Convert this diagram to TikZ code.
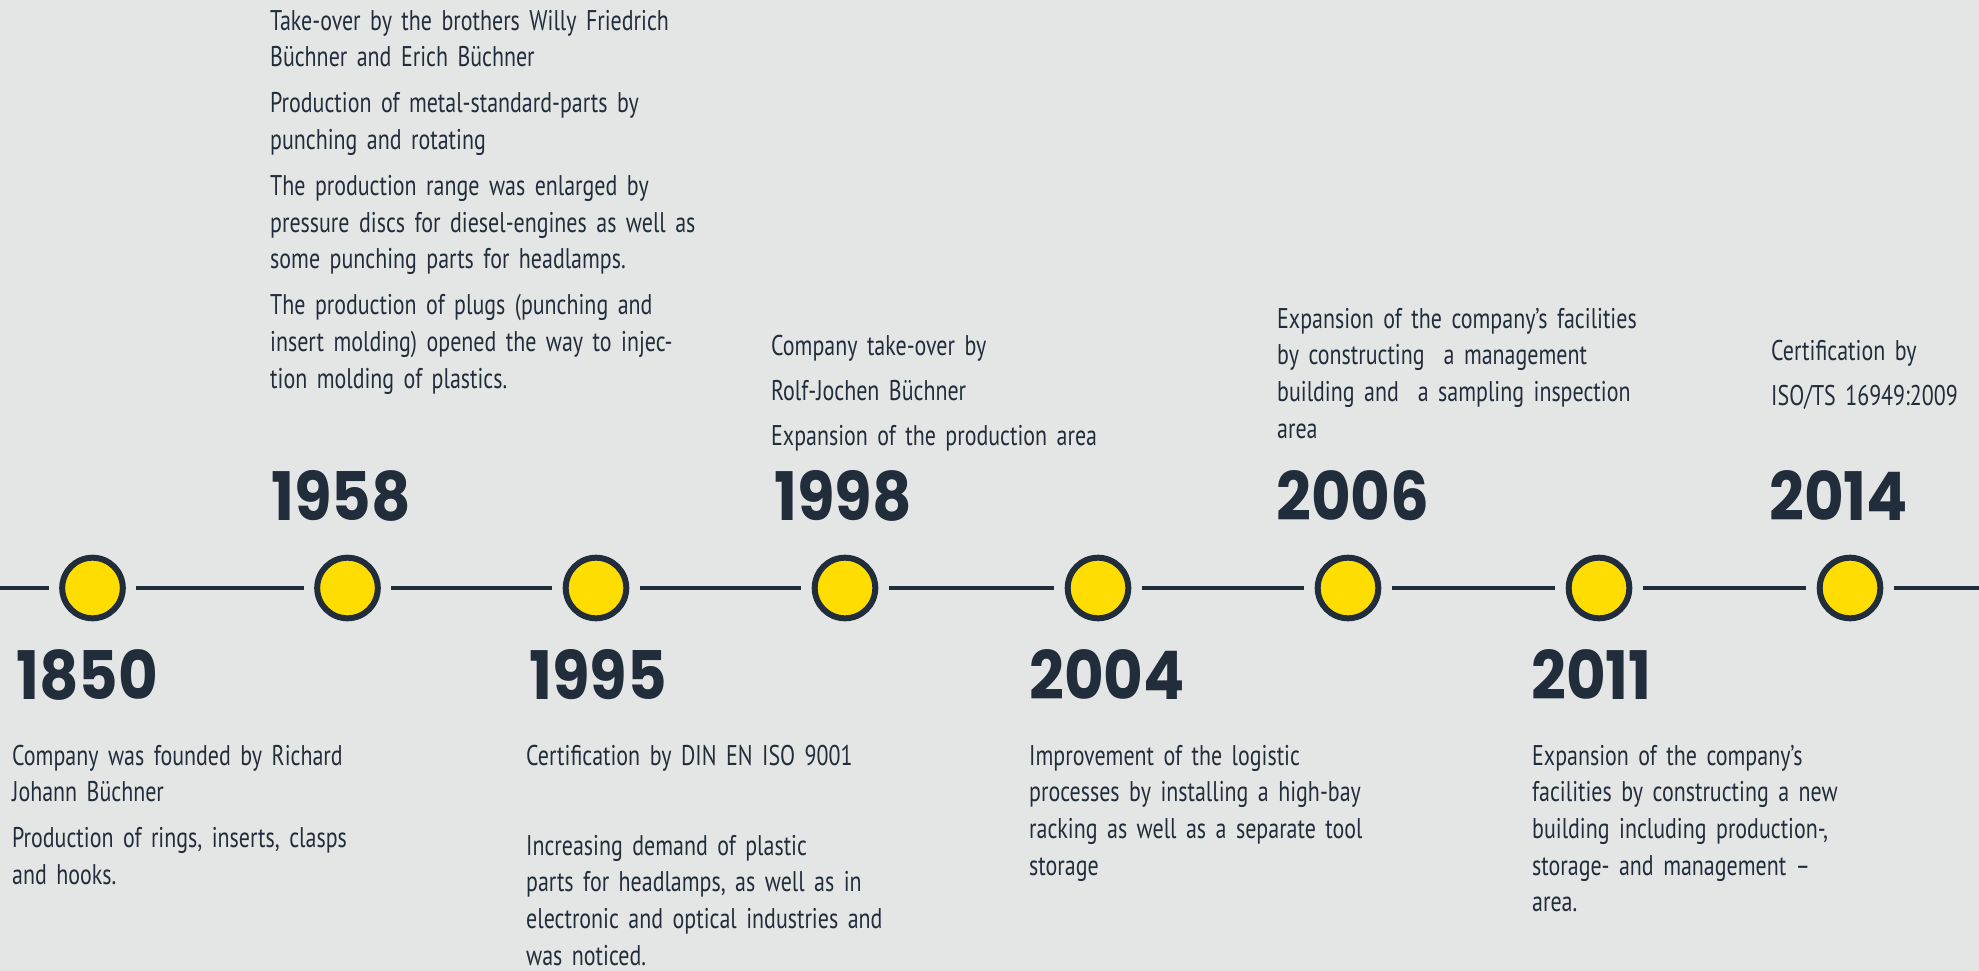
\documentclass[tikz,border=0pt]{standalone}
\usepackage{fontspec}
\setmainfont{PT Sans}
\newfontfamily\descfont[FakeStretch=0.77]{PT Sans}
\newfontfamily\yearfont[FakeStretch=0.91]{Poppins}
\setlength{\parindent}{0pt}
\definecolor{navy}{HTML}{222D3B}
\definecolor{yel}{HTML}{FFDD00}
\definecolor{bg}{HTML}{E4E6E5}
\begin{document}
\begin{tikzpicture}[x=1pt,y=-1pt,
  dot/.style={circle, draw=navy, fill=yel, line width=6pt, minimum size=60.6pt, inner sep=0pt},
  year/.style={anchor=base west, inner sep=0pt, text=navy, font=\yearfont\bfseries\fontsize{67}{67}\selectfont},
  desc/.style={anchor=north west, inner sep=0pt, text=navy, text width=540pt, align=left, font=\descfont\fontsize{28.5}{36.7}\selectfont},
  tl/.style={draw=navy, line width=4pt, shorten <=10.5pt, shorten >=10.5pt}
]
\fill[bg] (0,0) rectangle (1979,971);
\useasboundingbox (0,0) rectangle (1979,971);

% circles
\node[dot] (c1) at (92.5,588) {};
\node[dot] (c2) at (347.5,588) {};
\node[dot] (c3) at (596,588) {};
\node[dot] (c4) at (845,588) {};
\node[dot] (c5) at (1098,588) {};
\node[dot] (c6) at (1348,588) {};
\node[dot] (c7) at (1599,588) {};
\node[dot] (c8) at (1850,588) {};
\coordinate (lstart) at (0,588);
\coordinate (lend) at (1979,588);

% connectors
\draw[tl, shorten <=0pt] (lstart) -- (c1);
\draw[tl] (c1) -- (c2);
\draw[tl] (c2) -- (c3);
\draw[tl] (c3) -- (c4);
\draw[tl] (c4) -- (c5);
\draw[tl] (c5) -- (c6);
\draw[tl] (c6) -- (c7);
\draw[tl] (c7) -- (c8);
\draw[tl, shorten >=0pt] (c8) -- (lend);

% years
\node[year] (y1850) at (16,699) {1850};
\node[year] (y1958) at (271,520) {1958};
\node[year] (y1995) at (529,699) {1995};
\node[year] (y1998) at (774,520) {1998};
\node[year] (y2004) at (1029,699) {2004};
\node[year] (y2006) at (1276,520) {2006};
\node[year] (y2011) at (1531,699) {2011};
\node[year] (y2014) at (1769,520) {2014};

% descriptions
\node[desc] (d1850) at (12,739.3) {\strut Company was founded by Richard\\Johann Büchner\par\vspace{9.3pt}\strut Production of rings, inserts, clasps\\and hooks.};

\node[desc] (d1958) at (270,4.3) {\strut Take-over by the brothers Willy Friedrich\\Büchner and Erich Büchner\par\vspace{9.3pt}\strut Production of metal-standard-parts by\\punching and rotating\par\vspace{9.3pt}\strut The production range was enlarged by\\pressure discs for diesel-engines as well as\\some punching parts for headlamps.\par\vspace{9.3pt}\strut The production of plugs (punching and\\insert molding) opened the way to injec-\\tion molding of plastics.};

\node[desc] (d1995) at (526,739.3) {\strut Certification by DIN EN ISO 9001\par\vspace{53.3pt}\strut Increasing demand of plastic\\parts for headlamps, as well as in\\electronic and optical industries and\\was noticed.};

\node[desc] (d1998) at (771,329.3) {\strut Company take-over by\par\vspace{8.3pt}\strut Rolf-Jochen Büchner\par\vspace{8.3pt}\strut Expansion of the production area};

\node[desc] (d2004) at (1029,739.3) {\strut Improvement of the logistic\\processes by installing a high-bay\\racking as well as a separate tool\\storage};

\node[desc] (d2006) at (1277,302.3) {\strut Expansion of the company’s facilities\\by constructing\ \ a management\\building and\ \ a sampling inspection\\area};

\node[desc] (d2011) at (1532,739.3) {\strut Expansion of the company’s\\facilities by constructing a new\\building including production-,\\storage- and management –\\area.};

\node[desc] (d2014) at (1771,334.3) {\strut Certification by\par\vspace{8.3pt}\strut ISO/TS 16949:2009};
\end{tikzpicture}
\end{document}
